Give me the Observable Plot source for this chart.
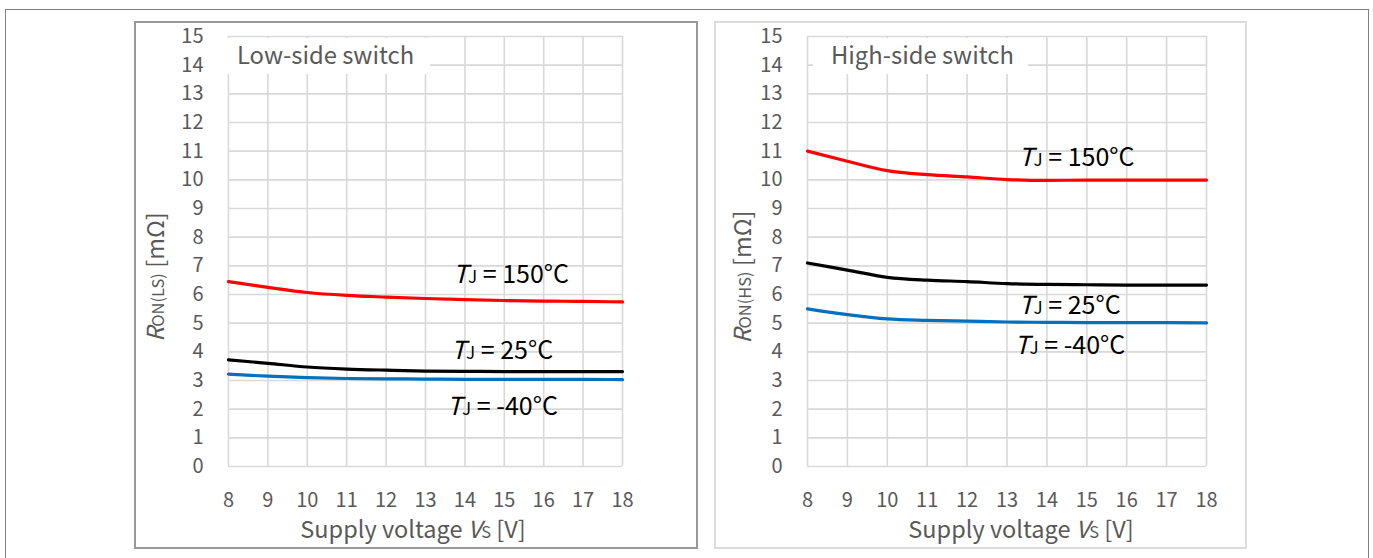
<!DOCTYPE html>
<html>
<head>
<meta charset="utf-8">
<script src="https://cdn.jsdelivr.net/npm/d3@7"></script>
<script src="https://cdn.jsdelivr.net/npm/@observablehq/plot@0.6"></script>
<style>
  html, body { margin: 0; padding: 0; background: #fff; }
  #page { position: relative; width: 1373px; height: 558px; overflow: hidden; font-family: "Noto Sans CJK JP", "Noto Sans", sans-serif; }
  .frame { position: absolute; box-sizing: border-box; }
  svg { overflow: visible; }
</style>
</head>
<body>
<div id="page"></div>
<script>
// ---------- data ----------
const voltages = [8, 9, 10, 11, 12, 13, 14, 15, 16, 17, 18];
const xTicks = [8, 9, 10, 11, 12, 13, 14, 15, 16, 17, 18];
const yTicks = [0, 1, 2, 3, 4, 5, 6, 7, 8, 9, 10, 11, 12, 13, 14, 15];
const temps = ["150", "25", "-40"];
const tempColors = ["#ff0000", "#000000", "#0070c0"];

// Low-side switch R_ON(LS) [mΩ]
const lsHot  = [6.45, 6.25, 6.07, 5.97, 5.91, 5.86, 5.82, 5.79, 5.77, 5.76, 5.74];
const lsRoom = [3.72, 3.60, 3.47, 3.40, 3.36, 3.33, 3.32, 3.31, 3.31, 3.31, 3.31];
const lsCold = [3.22, 3.15, 3.10, 3.07, 3.06, 3.05, 3.04, 3.04, 3.04, 3.04, 3.03];
// High-side switch R_ON(HS) [mΩ]
const hsHot  = [11.00, 10.65, 10.32, 10.18, 10.10, 10.01, 9.98, 9.99, 9.99, 9.99, 9.99];
const hsRoom = [7.10, 6.85, 6.60, 6.50, 6.45, 6.38, 6.35, 6.34, 6.33, 6.33, 6.33];
const hsCold = [5.50, 5.30, 5.15, 5.10, 5.07, 5.04, 5.03, 5.02, 5.02, 5.02, 5.01];

// label anchor points (data units) for the T_J annotations
const lsLabelX = [13.71, 13.66, 13.56];
const lsLabelY = [6.38, 3.73, 1.78];
const hsLabelX = [13.30, 13.30, 13.20];
const hsLabelY = [10.45, 5.31, 3.92];

// ---------- layout ----------
const page = document.getElementById("page");
const TXT = "#595959";
const GRID = "#d9d9d9";

function frame(l, t, w, h, border) {
  const d = document.createElement("div");
  d.className = "frame";
  Object.assign(d.style, { left: l + "px", top: t + "px", width: w + "px", height: h + "px", border });
  page.appendChild(d);
}
// outer frame (open at bottom)
frame(5, 9, 1364, 570, "1.5px solid #7f7f7f");
// panel frames
frame(134, 21, 564, 528, "2px solid #999999");
frame(714, 21, 533, 528, "2px solid #dcdcdc");

const overlay = d3.select(page).append("svg")
  .attr("width", 1373).attr("height", 558)
  .style("position", "absolute").style("left", "0px").style("top", "0px")
  .style("pointer-events", "none");

function rich(x, y, parts, opts = {}) {
  const t = overlay.append("text")
    .attr("x", x).attr("y", y)
    .attr("font-family", "Noto Sans CJK JP, Noto Sans, sans-serif")
    .attr("fill", opts.fill || "#000")
    .attr("text-anchor", opts.anchor || "start");
  if (opts.rotate) t.attr("transform", `rotate(-90 ${x} ${y})`);
  for (const p of parts) {
    t.append("tspan")
      .attr("font-size", p.size)
      .attr("font-style", p.italic ? "italic" : "normal")
      .text(p.t);
  }
  return t;
}

function panel(cfg) {
  const series = cfg.series;
  const rows = temps.flatMap((t, i) => voltages.map((v, j) => ({ v, r: series[i][j], t })));
  const plot = Plot.plot({
    width: cfg.width,
    height: 526,
    marginLeft: cfg.marginLeft,
    marginRight: cfg.marginRight,
    marginTop: 14,
    marginBottom: 82,
    style: { fontFamily: "Noto Sans CJK JP, Noto Sans, sans-serif", fontSize: "20px", color: TXT, background: "transparent", overflow: "visible" },
    x: { domain: [8, 18] },
    y: { domain: [0, 15] },
    color: { domain: temps, range: tempColors },
    marks: [
      Plot.gridX(xTicks, { stroke: GRID, strokeOpacity: 1, strokeWidth: 1.6 }),
      Plot.gridY(yTicks, { stroke: GRID, strokeOpacity: 1, strokeWidth: 1.6 }),
      Plot.axisX(xTicks, { tickSize: 0, tickPadding: 26, label: null, fill: TXT, fontSize: 20 }),
      Plot.axisY(yTicks, { tickSize: 0, tickPadding: 25, label: null, fill: TXT, fontSize: 20 }),
      Plot.line(rows, { x: "v", y: "r", z: "t", stroke: "t", strokeWidth: 3.2, curve: "monotone-x" })
    ]
  });
  plot.style.position = "absolute";
  plot.style.left = cfg.left + "px";
  plot.style.top = "22px";
  page.insertBefore(plot, overlay.node());
  const sx = plot.scale("x"), sy = plot.scale("y");
  const X = v => cfg.left + sx.apply(v);
  const Y = v => 22 + sy.apply(v);

  // title box
  overlay.append("rect")
    .attr("x", cfg.boxX).attr("y", 38).attr("width", cfg.boxW).attr("height", 36)
    .attr("fill", "#fff");
  rich(cfg.titleX, 64, [{ t: cfg.title, size: 23.8 }], { fill: TXT });

  // T_J annotations
  temps.forEach((t, i) => {
    rich(X(cfg.labelX[i]), Y(cfg.labelY[i]), [
      { t: "T", size: 25, italic: true },
      { t: "J", size: 17 },
      { t: " = " + t + "°C", size: 25 }
    ]);
  });

  // axis titles
  rich(cfg.xTitleCenter, 538, [
    { t: "Supply voltage ", size: 23.5 },
    { t: "V", size: 23.5, italic: true },
    { t: "S", size: 16.5 },
    { t: " [V]", size: 23.5 }
  ], { fill: TXT, anchor: "middle" });
  rich(cfg.yTitleX, 277, [
    { t: "R", size: 23.5, italic: true },
    { t: cfg.ySub, size: 16.5 },
    { t: " [mΩ]", size: 23.5 }
  ], { fill: TXT, anchor: "middle", rotate: true });
}

panel({
  series: [lsHot, lsRoom, lsCold],
  left: 135, width: 562, marginLeft: 93, marginRight: 75,
  title: "Low-side switch", titleX: 237, boxX: 226, boxW: 204,
  labelX: lsLabelX, labelY: lsLabelY,
  xTitleCenter: 413, yTitleX: 164, ySub: "ON(LS)"
});
panel({
  series: [hsHot, hsRoom, hsCold],
  left: 715, width: 531, marginLeft: 92, marginRight: 40,
  title: "High-side switch", titleX: 831, boxX: 813, boxW: 215,
  labelX: hsLabelX, labelY: hsLabelY,
  xTitleCenter: 1021, yTitleX: 751, ySub: "ON(HS)"
});
</script>
</body>
</html>
